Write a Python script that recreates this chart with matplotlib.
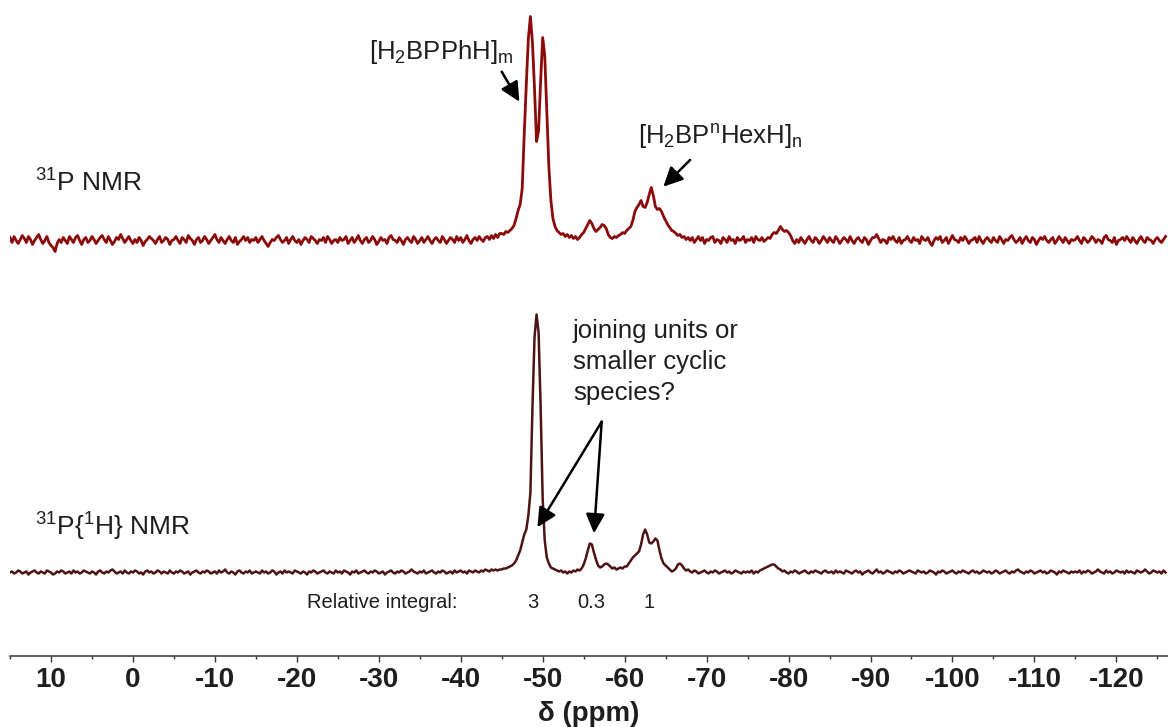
import numpy as np
import matplotlib
matplotlib.use("Agg")
import matplotlib.pyplot as plt
from matplotlib.ticker import MultipleLocator, FormatStrFormatter

plt.rcParams['font.family'] = ['Liberation Sans', 'DejaVu Sans']
plt.rcParams['mathtext.fontset'] = 'custom'
plt.rcParams['mathtext.rm'] = 'Liberation Sans'
plt.rcParams['mathtext.it'] = 'Liberation Sans:italic'
plt.rcParams['mathtext.bf'] = 'Liberation Sans:bold'
plt.rcParams['axes.unicode_minus'] = False

# chemical shift grid of both spectra (ppm), 0.25 ppm per point
ppm_start = 15.0
ppm_step = -0.25

# 31P NMR (proton coupled), intensity in a.u.
p31_coupled = [
    # 15 .. 5.25
    3, -2, 4, 0, -3, 1, 5, 2, -2, 4, 1, -4, 0, 3, 6, 1, -3, 0, 4, -2,
    -5, -7, -11, -3, 1, -2, 3, 0, -3, 4, 1, -2, 3, 5, 0, -4, 1, 3, -2, 0,
    # 5 .. -4.75
    4, 1, -3, 0, 3, 5, 1, -2, 4, 0, -4, -1, 3, 1, 6, 2, -2, 1, 4, 0,
    -3, 1, -2, 3, 0, -5, -1, 1, 4, 2, 0, -3, 1, 4, -2, 0, 3, 1, -4, 0,
    # -5 .. -14.75
    1, 4, 0, -3, 3, 1, -2, 5, 2, 0, -4, 1, 3, -2, 0, 4, 1, -3, 0, 3,
    6, 1, -2, 3, 0, -3, 1, 4, 0, -2, 3, -4, -1, 1, 4, 0, 3, -2, 1, 0,
    # -15 .. -24.75
    3, -2, 1, 4, 0, -3, -6, -2, 1, 0, 3, 5, 1, -2, 0, 3, -3, 1, 4, 0,
    -2, 1, -4, 0, 3, 1, -2, 4, 2, 0, -3, 1, 0, 3, -2, 4, 1, -3, 0, 1,
    # -25 .. -34.75
    -2, 3, 0, 1, 4, -3, 0, 3, -2, 1, 5, 0, -3, 1, 3, -2, 0, 4, 1, -4,
    -1, 3, 0, 1, -3, 3, 5, 1, 0, -2, 3, 0, -4, 1, 3, 0, -2, 4, 1, -3,
    # -35 .. -44.75
    0, 3, -2, 1, 4, 0, -3, 1, 3, 0, -2, 4, 1, -3, 0, 3, 1, -2, 4, 0,
    3, -2, 1, 5, 0, -3, 1, 3, 0, 4, 1, -1, 3, 4, 1, 5, 2, 6, 3, 7,
    # -45 .. -54.75
    7, 6, 9, 8, 10, 12, 15, 22, 30, 36, 52, 107, 156, 202, 224, 198, 152, 99, 110, 160,
    203, 185, 130, 74, 40, 22, 14, 10, 8, 6, 7, 4, 6, 3, 5, 2, 4, 1, 3, 6,
    # -55 .. -64.75
    8, 12, 16, 20, 17, 12, 9, 11, 13, 16, 15, 12, 6, 3, 2, 4, 3, 5, 6, 8,
    7, 10, 12, 14, 20, 29, 33, 36, 40, 34, 33, 38, 46, 53, 45, 34, 31, 32, 29, 24,
    # -65 .. -74.75
    20, 16, 13, 10, 9, 7, 5, 6, 3, 4, 1, 3, 0, 3, -2, 1, 4, 0, 3, -3,
    1, 0, 3, 4, -2, 1, 0, -3, 3, 1, -2, 4, 0, 1, -3, 3, 0, 1, 4, -2,
    # -75 .. -84.75
    1, 0, 3, -2, 4, 1, 0, 3, -1, 1, 3, 2, 6, 8, 7, 10, 14, 11, 9, 10,
    8, 5, 0, -3, 1, -2, 3, 0, -3, 1, 4, 0, -2, 3, 1, -3, 0, 4, 1, -2,
    # -85 .. -94.75
    3, 0, -2, 4, 1, -3, 0, 3, 1, -2, 4, 0, -3, 1, 3, 0, -2, 3, 1, -4,
    0, 3, 3, 6, 2, -2, 1, 0, -3, 3, 1, 4, 0, -2, 3, -3, 0, 1, 4, 0,
    # -95 .. -104.75
    -2, 3, 0, 1, -3, 4, 1, 0, 3, -2, -5, 0, 3, 1, 4, -2, 0, 3, -3, 1,
    5, 1, 0, -2, 3, 0, 4, 1, -3, 0, 1, 3, -2, 4, 0, -3, 1, 3, 0, -2,
    # -105 .. -114.75
    3, 0, -2, 4, 1, -3, 1, 0, 3, 5, 1, -2, 0, 3, -3, 1, 4, 0, -2, 3,
    1, -4, 0, 3, 1, 4, 0, -2, 1, 3, -3, 0, 4, 1, -2, 3, 0, -3, 1, 0,
    # -115 .. -124.75
    1, 4, 0, -3, 3, 1, -2, 0, 4, 2, -2, 1, 0, -3, 3, 5, 1, 0, -2, 3,
    -4, 0, 1, 3, 0, 4, 1, -2, 3, 0, -3, 1, 4, 0, -2, 3, 1, 0, -3, 1,
    # -125 .. -126
    3, 0, -2, 1, 4,
]

# 31P{1H} NMR (proton decoupled), intensity in a.u.
p31_decoupled = [
    # 15 .. 5.25
    0, 1, -1, 0, 2, 1, -1, 0, 1, -2, 0, 1, 2, 0, -1, 1, 0, -1, 2, 1,
    0, -2, -1, 1, 0, 2, 1, -1, 0, 1, -1, 2, 0, 1, -1, 0, 2, 1, 0, -1,
    # 5 .. -4.75
    1, 0, -2, 1, 2, 0, -1, 1, 0, 2, 3, 1, -1, 0, 1, -1, 2, 0, -1, 1,
    0, 2, 1, -1, 0, -2, 1, 2, 0, 1, -1, 0, 2, 1, -1, 1, 0, -1, 2, 0,
    # -5 .. -14.75
    -1, 1, 0, 2, 1, -1, 0, 1, -2, 0, 1, 2, 0, -1, 1, 0, 2, 1, -1, 0,
    1, -1, 2, 0, 1, 3, 0, -1, 1, 0, -2, 1, 2, 0, -1, 1, 0, 2, -1, 0,
    # -15 .. -24.75
    1, 0, -1, 2, 0, 1, -1, 0, 2, 1, -2, 0, 1, -1, 2, 0, 1, 0, -1, 2,
    1, 0, -1, 1, 0, -2, 1, 0, 2, 1, -1, 0, 1, 2, 0, -1, 1, 0, -1, 2,
    # -25 .. -34.75
    0, 1, -1, 2, 1, 0, -2, 1, 0, 2, -1, 0, 1, 2, 0, -1, 1, 0, 2, 1,
    -1, 0, 1, -2, 0, 1, 2, 0, -1, 1, 0, 2, 1, -1, 0, 1, 3, 1, 0, -1,
    # -35 .. -44.75
    1, 0, 2, -1, 0, 1, 2, 0, -1, 1, 0, 2, 1, -1, 0, 1, -1, 2, 0, 1,
    2, 0, 1, -1, 2, 1, 0, 2, 1, 0, 2, 1, 3, 2, 1, 3, 2, 3, 2, 3,
    # -45 .. -54.75
    3, 4, 4, 5, 6, 7, 9, 12, 17, 22, 30, 38, 43, 57, 80, 165, 235, 258, 240, 165,
    73, 32, 15, 9, 5, 4, 3, 2, 1, 2, 0, 1, -1, 1, 0, 2, 1, 3, 2, 4,
    # -55 .. -64.75
    8, 14, 22, 29, 28, 20, 13, 7, 5, 6, 8, 9, 8, 6, 4, 5, 3, 4, 5, 4,
    6, 6, 9, 12, 15, 17, 19, 21, 28, 38, 43, 38, 30, 29, 31, 34, 32, 22, 14, 9,
    # -65 .. -74.75
    7, 5, 3, 1, 2, 4, 8, 9, 7, 4, 2, 3, 1, 0, 2, 1, -1, 0, 1, 2,
    0, -1, 1, 0, 2, 1, -1, 0, 1, 2, 0, 1, -1, 0, 2, 1, 0, -1, 1, 0,
    # -75 .. -84.75
    1, 0, 2, -1, 1, 0, 2, 3, 4, 5, 6, 7, 8, 8, 6, 4, 3, 1, 2, 0,
    -1, 1, 0, 2, 1, -1, 0, 1, 2, 0, -1, 1, 0, 2, 1, 0, -1, 1, 2, 0,
    # -85 .. -94.75
    0, 1, -1, 2, 0, 1, 0, -1, 2, 1, 0, -1, 1, 2, 0, 1, -2, 0, 1, 2,
    0, -1, 1, 3, 0, 1, -1, 0, 2, 1, 0, -1, 1, 0, 2, 1, -1, 0, 1, 2,
    # -95 .. -104.75
    1, 0, -1, 2, 1, 0, 1, -1, 0, 2, 1, 0, -2, 1, 0, 2, 1, -1, 0, 1,
    2, 0, -1, 1, 0, 2, 1, 0, -1, 1, 2, 0, 1, -1, 0, 2, 1, 0, 1, -1,
    # -105 .. -114.75
    0, 2, 1, -1, 0, 1, 2, 0, -1, 1, 0, 2, 3, 1, 0, -1, 1, 0, 2, 1,
    -1, 0, 1, 2, 0, 1, -1, 0, 2, 1, 0, -2, 1, 0, 2, 1, 0, -1, 1, 0,
    # -115 .. -124.75
    1, 0, 2, -1, 1, 0, 2, 1, -1, 0, 1, 3, 1, 0, -1, 2, 0, 1, -1, 0,
    2, 1, 0, 1, -1, 2, 0, 1, 0, -1, 2, 1, 0, 1, 3, 1, -1, 0, 2, 1,
    # -125 .. -126
    0, 1, -1, 2, 0,
]

# relative integrals of the decoupled signals and where they are written
integral_labels = ["3", "0.3", "1"]
integral_ppm = [-48.8, -55.9, -63.0]

tick_major = 10
tick_minor = 5

ppm_coupled = ppm_start + ppm_step * np.arange(len(p31_coupled))
ppm_decoupled = ppm_start + ppm_step * np.arange(len(p31_decoupled))

# vertical stacking of the two spectra
offset_coupled = 415
offset_decoupled = 83

text_color = "#1e1e1e"

fig = plt.figure(figsize=(11.68, 7.27), dpi=100)
ax = fig.add_axes([10 / 1168, 71.5 / 727, 1158 / 1168, 655.5 / 727])

ax.plot(ppm_coupled, np.asarray(p31_coupled) + offset_coupled,
        color="#8b0a0a", lw=2.0, solid_joinstyle="round")
ax.plot(ppm_decoupled, np.asarray(p31_decoupled) + offset_decoupled,
        color="#4e1414", lw=1.8, solid_joinstyle="round")

ax.set_xlim(15, -126.3)
ax.set_ylim(0, 655.5)

for side in ("left", "right", "top"):
    ax.spines[side].set_visible(False)
ax.spines["bottom"].set_linewidth(1.1)
ax.spines["bottom"].set_color("#333333")
ax.set_yticks([])

ax.xaxis.set_major_locator(MultipleLocator(tick_major))
ax.xaxis.set_minor_locator(MultipleLocator(tick_minor))
ax.xaxis.set_major_formatter(FormatStrFormatter("%d"))
ax.tick_params(axis="x", which="major", direction="out", length=4, width=1.0,
               color="#333333", pad=4.5, labelsize=20, labelcolor=text_color)
ax.tick_params(axis="x", which="minor", direction="out", length=2.5, width=1.0,
               color="#333333")
for lab in ax.get_xticklabels():
    lab.set_fontweight("bold")
ax.set_xlabel("δ (ppm)", fontsize=20, fontweight="bold", color=text_color, labelpad=5.5)

label_kw = dict(color=text_color, ha="left", va="center")
ax.text(11.95, 472.5, r"$^{31}$P NMR", fontsize=19, **label_kw)
ax.text(11.95, 128.5, r"$^{31}$P{$^{1}$H} NMR", fontsize=19, **label_kw)
ax.text(-28.8, 603.5, r"[H$_{2}$BPPhH]$_{\mathrm{m}}$", fontsize=18.5, **label_kw)
ax.text(-61.63, 518.5, r"[H$_{2}$BP$^{\mathrm{n}}$HexH]$_{\mathrm{n}}$", fontsize=18.5, **label_kw)
ax.text(-53.7, 293.5, "joining units or\nsmaller cyclic\nspecies?", fontsize=18.5,
        linespacing=1.38, **label_kw)
ax.text(-21.24, 52.5, "Relative integral:", fontsize=14.5, **label_kw)
for lab, pos in zip(integral_labels, integral_ppm):
    ax.text(pos, 52.5, lab, fontsize=14.5, color=text_color, ha="center", va="center")

arrow_kw = dict(arrowstyle="-|>,head_length=0.45,head_width=0.22", color="black",
                lw=1.8, mutation_scale=26, shrinkA=0, shrinkB=0)
ax.annotate("", xy=(-47.15, 553.8), xytext=(-45.0, 583.8), arrowprops=arrow_kw)
ax.annotate("", xy=(-64.72, 468.8), xytext=(-67.98, 495.5), arrowprops=arrow_kw)
ax.annotate("", xy=(-49.35, 128.2), xytext=(-57.2, 233.8), arrowprops=arrow_kw)
ax.annotate("", xy=(-56.26, 122.2), xytext=(-57.2, 233.8), arrowprops=arrow_kw)

fig.savefig("out.png", dpi=100)
